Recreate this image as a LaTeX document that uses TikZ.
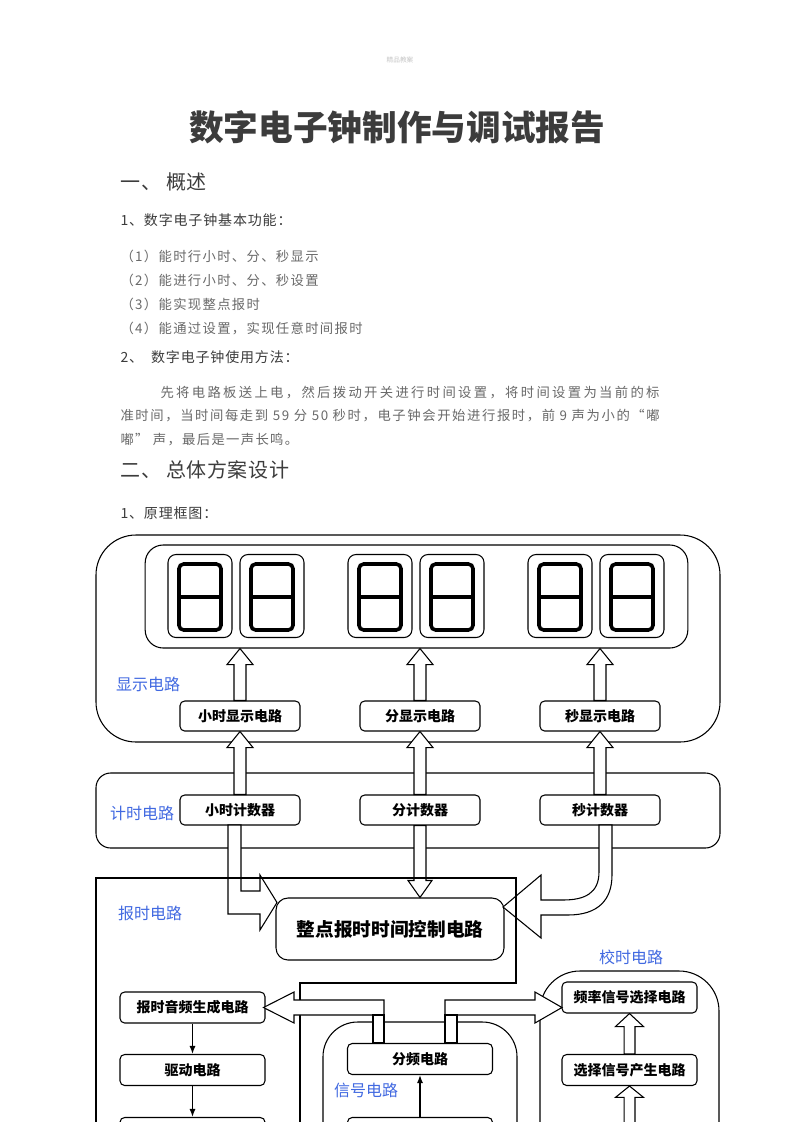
\documentclass[tikz,border=0pt]{standalone}
\usepackage{fontspec}
\setmainfont{Noto Sans CJK SC}
\usetikzlibrary{calc,arrows.meta}
\definecolor{lblblue}{RGB}{65,105,225}
\definecolor{txtdark}{RGB}{60,60,60}
\definecolor{txtgray}{RGB}{105,105,105}
\newcommand\hollowup[5]{%
  \filldraw[harrow] let \p1=(#1), \p2=(#2) in
   (\x1-#3,\y1) -- (\x1-#3,\y2-#5) -- (\x1-#4,\y2-#5) -- (\x1,\y2) -- (\x1+#4,\y2-#5) -- (\x1+#3,\y2-#5) -- (\x1+#3,\y1) -- cycle;}
\newcommand\hollowdown[5]{%
  \filldraw[harrow] let \p1=(#1), \p2=(#2) in
   (\x1-#3,\y1) -- (\x1-#3,\y2+#5) -- (\x1-#4,\y2+#5) -- (\x1,\y2) -- (\x1+#4,\y2+#5) -- (\x1+#3,\y2+#5) -- (\x1+#3,\y1) -- cycle;}
\begin{document}
\begin{tikzpicture}[x=0.75pt,y=-0.75pt,
  line width=0.8pt,
  harrow/.style={draw=black, fill=white, line width=0.8pt, line join=miter},
  box/.style={draw=black, fill=white, rounded corners=3.5pt, inner sep=0pt,
    font=\fontsize{10.5pt}{12pt}\selectfont\bfseries},
  wbox/.style={box, minimum width=90pt, minimum height=22.5pt},
  lbox/.style={box, minimum width=108.75pt, minimum height=23.25pt},
  rbox/.style={box, minimum width=101.25pt, minimum height=23.25pt},
  digbox/.style={draw=black, fill=white, rounded corners=6pt, minimum width=48pt, minimum height=62.25pt, inner sep=0pt},
  glyph/.style={draw=black, line width=2.7pt, rounded corners=3.5pt},
  grp/.style={text=lblblue, font=\fontsize{12pt}{14pt}\selectfont},
  body/.style={anchor=west, inner sep=0pt, text=txtgray},
  thin/.style={draw=black, line width=0.9pt, -{Latex[length=6pt,width=4.5pt]}}
]
\useasboundingbox (0,0) rectangle (793,1122);
\clip (0,0) rectangle (793,1122);
\fill[white] (0,0) rectangle (793,1122);

% ---------- text part ----------
\node[font=\fontsize{5pt}{6pt}\selectfont, text=gray!45] (hdr) at (400,60) {精品教案};
\node[font=\fontsize{26pt}{30pt}\selectfont\bfseries, text=txtdark] (title) at (397,127) {数字电子钟制作与调试报告};
\node[body, text=txtdark, font=\fontsize{15pt}{18pt}\selectfont\addfontfeature{LetterSpace=3}] (h1) at (120,182) {一、 概述};
\node[body, text=txtdark, font=\fontsize{10.5pt}{12pt}\selectfont\addfontfeature{LetterSpace=6}] (s1) at (120,220) {1、数字电子钟基本功能：};
\node[body, font=\fontsize{10pt}{12pt}\selectfont\addfontfeature{LetterSpace=10}] (i1) at (120,256) {（1）能时行小时、分、秒显示};
\node[body, font=\fontsize{10pt}{12pt}\selectfont\addfontfeature{LetterSpace=10}] (i2) at (120,280) {（2）能进行小时、分、秒设置};
\node[body, font=\fontsize{10pt}{12pt}\selectfont\addfontfeature{LetterSpace=10}] (i3) at (120,304) {（3）能实现整点报时};
\node[body, font=\fontsize{10pt}{12pt}\selectfont\addfontfeature{LetterSpace=10}] (i4) at (120,328) {（4）能通过设置，实现任意时间报时};
\node[body, text=txtdark, font=\fontsize{10.5pt}{12pt}\selectfont\addfontfeature{LetterSpace=6}] (s2) at (120,357) {2、\ \ 数字电子钟使用方法：};
\node[body, font=\fontsize{10pt}{12pt}\selectfont\addfontfeature{LetterSpace=17.5}] (p1) at (160,393) {先将电路板送上电，然后拨动开关进行时间设置，将时间设置为当前的标};
\node[body, font=\fontsize{10pt}{12pt}\selectfont\addfontfeature{LetterSpace=12}] (p2) at (120,416) {准时间，当时间每走到 59 分 50 秒时，电子钟会开始进行报时，前 9 声为小的“嘟};
\node[body, font=\fontsize{10pt}{12pt}\selectfont\addfontfeature{LetterSpace=10}] (p3) at (120,440) {嘟” 声，最后是一声长鸣。};
\node[body, text=txtdark, font=\fontsize{15pt}{18pt}\selectfont\addfontfeature{LetterSpace=3}] (h2) at (120,470) {二、 总体方案设计};
\node[body, text=txtdark, font=\fontsize{10.5pt}{12pt}\selectfont\addfontfeature{LetterSpace=6}] (s3) at (120,513) {1、原理框图：};

% ---------- group outlines ----------
\draw[rounded corners=30pt] (96,535) rectangle (720,742);
\draw[rounded corners=11pt] (96,773) rectangle (720,848);
\draw (96,1140) -- (96,878) -- (516,878) -- (516,983) -- (300,983) -- (300,1140);
\draw[rounded corners=26pt] (323,1150) -- (323,1022) -- (517,1022) -- (517,1150);
\draw[rounded corners=30pt] (540,1150) -- (540,971) -- (719,971) -- (719,1150);

% ---------- display ----------
\node[draw=black, fill=white, rounded corners=13.5pt, minimum width=407pt, minimum height=77.25pt, inner sep=0pt] (disp) at (416.5,596.5) {};
\foreach \n/\xx in {d1/200, d2/272, d3/380, d4/452, d5/560, d6/632}{
  \node[digbox] (\n) at (\xx,596) {};
  \draw[glyph] ($(\n.center)+(-21,-32)$) rectangle ($(\n.center)+(21,34)$);
  \draw[draw=black, line width=2.7pt] ($(\n.center)+(-21,1)$) -- ($(\n.center)+(21,1)$);
}

\node[grp] (lbl1) at (148,684) {显示电路};
\node[grp] (lbl2) at (142,813) {计时电路};
\node[grp] (lbl3) at (150,913) {报时电路};
\node[grp] (lbl4) at (631,957) {校时电路};
\node[grp] (lbl5) at (366,1090) {信号电路};

% boxes
\node[wbox] (hd) at (240,716) {小时显示电路};
\node[wbox] (md) at (420,716) {分显示电路};
\node[wbox] (sd) at (600,716) {秒显示电路};
\node[wbox] (hc) at (240,810) {小时计数器};
\node[wbox] (mc) at (420,810) {分计数器};
\node[wbox] (sc) at (600,810) {秒计数器};

% hollow arrows up
\hollowup{hd.north}{disp.south}{4.5pt}{9.75pt}{12pt}
\hollowup{md.north}{disp.south}{4.5pt}{9.75pt}{12pt}
\hollowup{sd.north}{disp.south}{4.5pt}{9.75pt}{12pt}
\hollowup{hc.north}{hd.south}{4.5pt}{9.75pt}{12pt}
\hollowup{mc.north}{md.south}{4.5pt}{9.75pt}{12pt}
\hollowup{sc.north}{sd.south}{4.5pt}{9.75pt}{12pt}

% control
\node[draw=black, fill=white, rounded corners=9pt, minimum width=171pt, minimum height=46.5pt, inner sep=0pt,
  font=\fontsize{14pt}{16pt}\selectfont\bfseries] (ctrl) at (390,929) {整点报时时间控制电路};

% arrows into control
\filldraw[harrow] (228,825) -- (228,914) -- (260,914) -- (260,930) -- (277,902.5) -- (260,875) -- (260,891) -- (241,891) -- (241,825) -- cycle;
\hollowdown{mc.south}{ctrl.north}{4.5pt}{9pt}{12.75pt}
\filldraw[harrow] (599,825) -- (599,872) .. controls (599,893) and (585,900) .. (563,900) -- (541,900) -- (541,875) -- (503,907) -- (541,938) -- (541,915) -- (568,915) .. controls (598,915) and (612,900) .. (612,875) -- (612,825) -- cycle;
\draw (96,878) -- (516,878) -- (516,983);

% lower area boxes
\node[lbox] (bp) at (192.5,1007.5) {报时音频生成电路};
\node[lbox] (qd) at (192.5,1070) {驱动电路};
\node[lbox] (bl) at (192.5,1133) {};
\node[lbox] (fp) at (420,1059) {分频电路};
\node[lbox] (bm) at (420,1133) {};
\node[rbox] (pl) at (629.5,997.5) {频率信号选择电路};
\node[rbox] (xz) at (629.5,1070) {选择信号产生电路};
\coordinate (xzb) at (629.5,1135);

% horizontal hollow arrows from 分频
\filldraw[harrow] (384,1015) -- (384,1000) -- (294,1000) -- (294,992) -- (263.5,1007.5) -- (294,1023) -- (294,1015) -- cycle;
\filldraw[harrow] (373,1015) rectangle (384,1043);
\filldraw[harrow] (445,1000) -- (535,1000) -- (535,992) -- (562,1007.5) -- (535,1023) -- (535,1015) -- (445,1015) -- cycle;
\filldraw[harrow] (445,1015) rectangle (457,1043);

% 校时 arrows
\hollowup{xz.north}{pl.south}{4.1pt}{10.5pt}{9.75pt}
\hollowup{xzb}{xz.south}{4.1pt}{10.5pt}{8.5pt}

% thin arrows
\draw[thin] (bp.south) -- (qd.north);
\draw[thin] (qd.south) -- (bl.north);
\draw[thin] (bm.north) -- (fp.south);
\end{tikzpicture}
\end{document}
